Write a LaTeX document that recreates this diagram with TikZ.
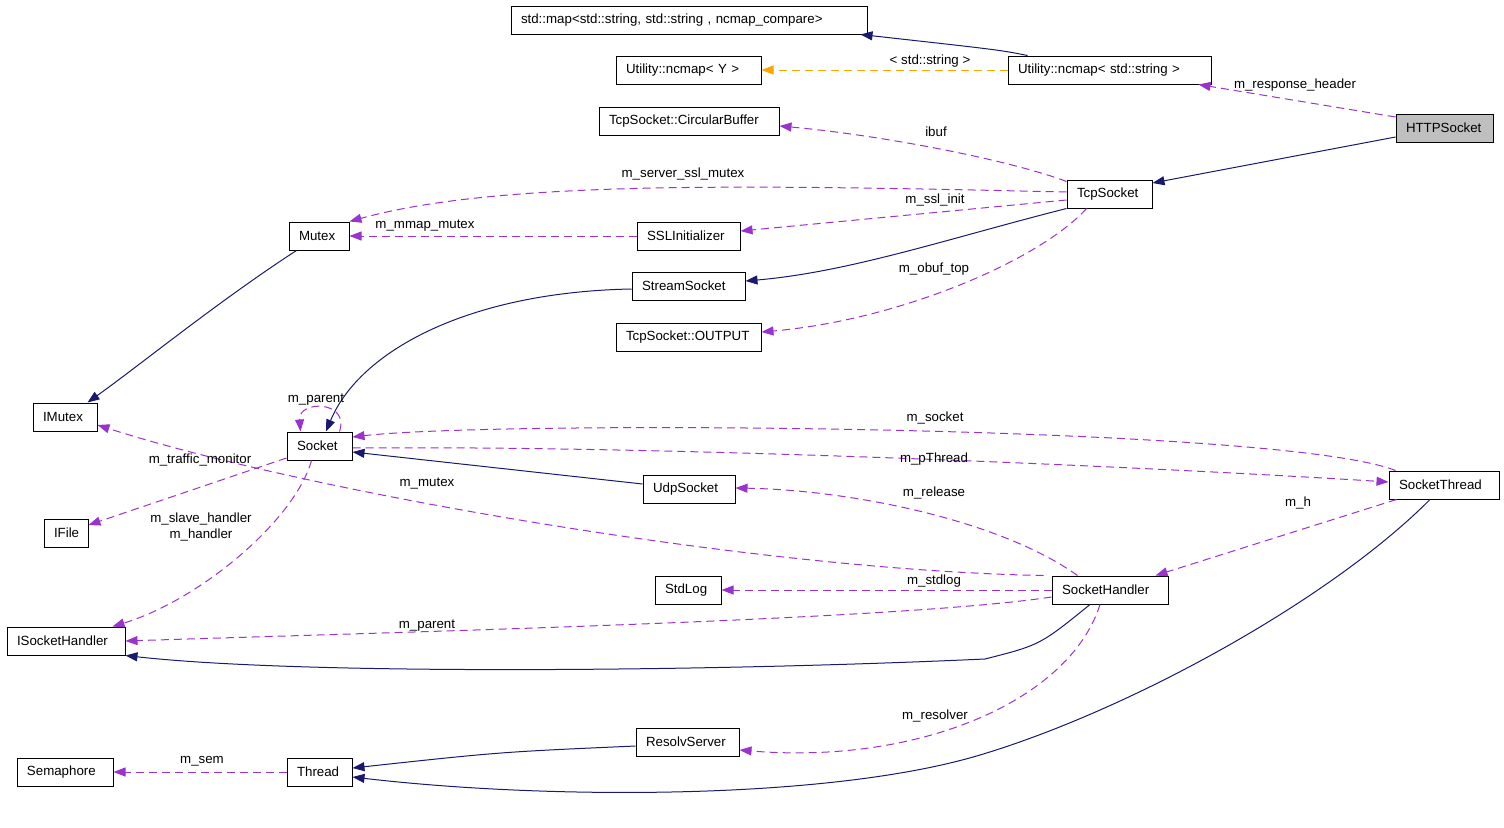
\documentclass[tikz,border=0pt]{standalone}
\usepackage{fontspec}
\setsansfont{Liberation Sans}
\usetikzlibrary{arrows.meta}
\definecolor{edgenavy}{HTML}{191970}
\definecolor{edgepurple}{HTML}{9A32CD}
\definecolor{edgeorange}{HTML}{FFA500}

\begin{document}
\begin{tikzpicture}[x=1pt,y=-1pt,font=\sffamily\fontsize{13.3}{16}\selectfont,line width=1pt,
  cls/.style={draw,inner xsep=10pt,inner ysep=0pt,minimum height=28pt,align=left},
  inh/.style={draw=edgenavy,-{Triangle[length=12pt,width=9pt]}},
  use/.style={draw=edgepurple,dash pattern=on 8pt off 5pt,-{Triangle[length=12pt,width=9pt]}},
  tmpl/.style={draw=edgeorange,dash pattern=on 8pt off 5pt,-{Triangle[length=12pt,width=9pt]}},
  lbl/.style={inner sep=0pt}]
\useasboundingbox (0,0) rectangle (1504,827);
\node[cls,text width=336pt] (stdmap) at (689,20) {std::map<std::string, std::string , ncmap\_compare>};
\node[cls,text width=125pt] (ncmapY) at (688.5,70) {Utility::ncmap< Y >};
\node[cls,text width=183pt] (ncmapStr) at (1109.5,70) {Utility::ncmap< std::string >};
\node[cls,text width=77pt,fill=gray!50] (http) at (1444.5,128) {HTTPSocket};
\node[cls,text width=160pt] (cbuf) at (689,121) {TcpSocket::CircularBuffer};
\node[cls,text width=65pt] (tcp) at (1109.5,194) {TcpSocket};
\node[cls,text width=40pt] (mutex) at (319,236) {Mutex};
\node[cls,text width=83pt] (sslinit) at (688.5,236) {SSLInitializer};
\node[cls,text width=93pt] (stream) at (688.5,286) {StreamSocket};
\node[cls,text width=125pt] (output) at (688.5,337) {TcpSocket::OUTPUT};
\node[cls,text width=44pt] (imutex) at (65,417) {IMutex};
\node[cls,text width=45pt] (socket) at (319.5,446) {Socket};
\node[cls,text width=72pt] (udp) at (689,489) {UdpSocket};
\node[cls,text width=90pt] (sthread) at (1444,485) {SocketThread};
\node[cls,text width=24pt] (ifile) at (66,533) {IFile};
\node[cls,text width=46pt] (stdlog) at (688,590) {StdLog};
\node[cls,text width=96pt] (shandler) at (1110,590) {SocketHandler};
\node[cls,text width=98pt] (ish) at (66,641) {ISocketHandler};
\node[cls,text width=83pt] (resolv) at (687.5,742) {ResolvServer};
\node[cls,text width=76pt] (sem) at (65,772) {Semaphore};
\node[cls,text width=45pt] (thread) at (319.5,772) {Thread};

\draw[inh] ([xshift=20pt]ncmapStr.north west) .. controls (1000,50) .. ([xshift=-7pt]stdmap.south east);
\draw[tmpl] (ncmapStr.west) -- (ncmapY.east);
\draw[use] ([yshift=11pt]http.west) -- ([xshift=-13pt]ncmapStr.south east);
\draw[inh] ([yshift=-9pt]http.west) -- ([yshift=11pt]tcp.east);
\draw[use] ([yshift=-2pt]tcp.north west) .. controls (1010,160) and (880,135) .. ([yshift=-5pt]cbuf.east);
\draw[use] ([yshift=2pt]tcp.west) .. controls (750,185) and (500,180) .. (mutex.north east);
\draw[use] ([yshift=-6pt]tcp.west) -- ([yshift=5pt]sslinit.east);
\draw[inh] (tcp.south west) .. controls (950,238) and (850,272) .. ([yshift=5pt]stream.east);
\draw[use] ([xshift=20pt]tcp.south west) .. controls (1040,260) and (900,320) .. ([yshift=5pt]output.east);
\draw[use] (sslinit.west) -- (mutex.east);
\draw[inh] ([xshift=8pt]mutex.south west) .. controls (220,300) and (140,365) .. ([xshift=-10pt]imutex.north east);
\draw[inh] ([yshift=-3pt]stream.west) .. controls (470,292) and (360,350) .. ([xshift=6.5pt]socket.north);
\draw[use] ([xshift=20pt]socket.north) .. controls (350,400) and (298,400) .. ([xshift=-19pt]socket.north);
\draw[use] ([yshift=-12pt]socket.west) -- ([yshift=8pt]ifile.east);
\draw[use] ([xshift=-8pt]socket.south) .. controls (295,520) and (200,600) .. ([xshift=-13pt]ish.north east);
\draw[inh] ([yshift=5pt]udp.west) -- ([yshift=-6pt]socket.east);
\draw[use] ([xshift=7pt]sthread.north west) .. controls (1280,425) and (500,420) .. ([yshift=9pt]socket.east);
\draw[use] ([yshift=-2pt]socket.east) .. controls (700,445) and (1200,470) .. ([yshift=3pt]sthread.west);
\draw[use] ([xshift=-8pt]shandler.north west) .. controls (750,570) and (300,490) .. ([yshift=-8pt]imutex.east);
\draw[use] ([xshift=26pt]shandler.north west) .. controls (1000,520) and (850,490) .. ([yshift=1pt]udp.east);
\draw[use] ([xshift=8pt]sthread.south west) -- ([xshift=-13pt]shandler.north east);
\draw[use] (shandler.west) -- (stdlog.east);
\draw[use] ([yshift=-7pt]shandler.west) .. controls (900,620) and (400,632) .. (ish.east);
\draw[inh] ([xshift=-20pt]shandler.south) .. controls (1040,645) .. (985,659) .. controls (700,672) and (300,675) .. (ish.south east);
\draw[use] ([xshift=-10pt]shandler.south) .. controls (1070,700) and (920,765) .. ([yshift=-8pt]resolv.east);
\draw[inh] ([yshift=-4pt]resolv.west) .. controls (500,752) .. ([yshift=4pt]thread.east);
\draw[inh] ([xshift=-14pt]sthread.south) .. controls (1330,600) and (1130,710) .. (980,755) .. controls (830,800) and (550,800) .. ([yshift=-5pt]thread.east);
\draw[use] (thread.west) -- (sem.east);

\node[lbl] (lbl-str) at (930,61) {< std::string >};
\node[lbl] (lbl-resp) at (1295,85) {m\_response\_header};
\node[lbl] (lbl-ibuf) at (936,132) {ibuf};
\node[lbl] (lbl-srvmutex) at (683,174) {m\_server\_ssl\_mutex};
\node[lbl] (lbl-sslinit) at (935,200) {m\_ssl\_init};
\node[lbl] (lbl-obuf) at (934,269) {m\_obuf\_top};
\node[lbl] (lbl-mmap) at (425,226) {m\_mmap\_mutex};
\node[lbl] (lbl-self) at (316,400) {m\_parent};
\node[lbl] (lbl-traffic) at (200,460) {m\_traffic\_monitor};
\node[lbl,align=center] (lbl-handler) at (201,527) {m\_slave\_handler\\m\_handler};
\node[lbl] (lbl-socket) at (935,418) {m\_socket};
\node[lbl] (lbl-pthread) at (934,459) {m\_pThread};
\node[lbl] (lbl-mutex) at (427,484) {m\_mutex};
\node[lbl] (lbl-release) at (934,493) {m\_release};
\node[lbl] (lbl-h) at (1298,503) {m\_h};
\node[lbl] (lbl-stdlog) at (934,581) {m\_stdlog};
\node[lbl] (lbl-parent) at (427,626) {m\_parent};
\node[lbl] (lbl-resolver) at (935,716) {m\_resolver};
\node[lbl] (lbl-sem) at (202,761) {m\_sem};
\end{tikzpicture}
\end{document}
